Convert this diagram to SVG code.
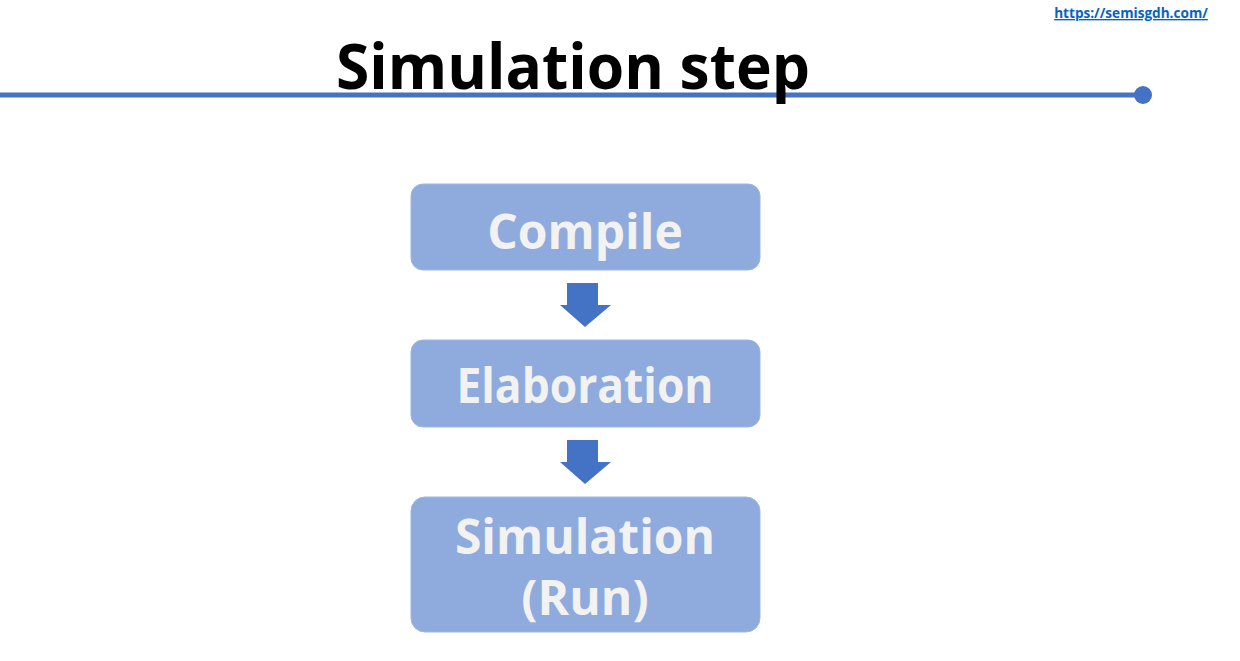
<svg xmlns="http://www.w3.org/2000/svg" width="1240" height="661" viewBox="0 0 1240 661">
<style>
.box{fill:#8FAADC;stroke:#9DB5E2;stroke-width:1}
.lbl{font-family:"Open Sans","Noto Sans",sans-serif;font-weight:bold;font-size:48px;fill:#F2F2F2;text-anchor:middle}
.arrow{fill:#4472C4}
</style>
<rect width="1240" height="661" fill="#FFFFFF"/>
<g id="header">
<text x="1131" y="18" font-family="Open Sans, Noto Sans, sans-serif" font-weight="bold" font-size="13.6" fill="#0563C1" text-anchor="middle" text-decoration="underline">https://semisgdh.com/</text>
<line x1="0" y1="95" x2="1143" y2="95" stroke="#4472C4" stroke-width="5"/>
<circle cx="1143" cy="95" r="9" fill="#4472C4"/>
<text x="573" y="89" font-family="Open Sans, Noto Sans, sans-serif" font-weight="bold" font-size="62" fill="#000000" text-anchor="middle" textLength="474" lengthAdjust="spacingAndGlyphs">Simulation step</text>
</g>
<g id="compile">
<rect class="box" x="411" y="184" width="349" height="86" rx="12"/>
<text class="lbl" x="585" y="249" font-size="50">Compile</text>
</g>
<g id="elaboration">
<rect class="box" x="411" y="340" width="349" height="87" rx="12"/>
<text class="lbl" x="585" y="403" textLength="257" lengthAdjust="spacingAndGlyphs">Elaboration</text>
</g>
<g id="simulation">
<rect class="box" x="411" y="497" width="349" height="135" rx="14"/>
<text class="lbl" x="585" y="554">Simulation</text>
<text class="lbl" x="585" y="615">(Run)</text>
</g>
<g id="connectors">
<polygon class="arrow" points="567,283 598,283 598,305 611,305 585,327 560,305 567,305"/>
<polygon class="arrow" points="567,440 598,440 598,462 611,462 585,484 560,462 567,462"/>
</g>
</svg>
